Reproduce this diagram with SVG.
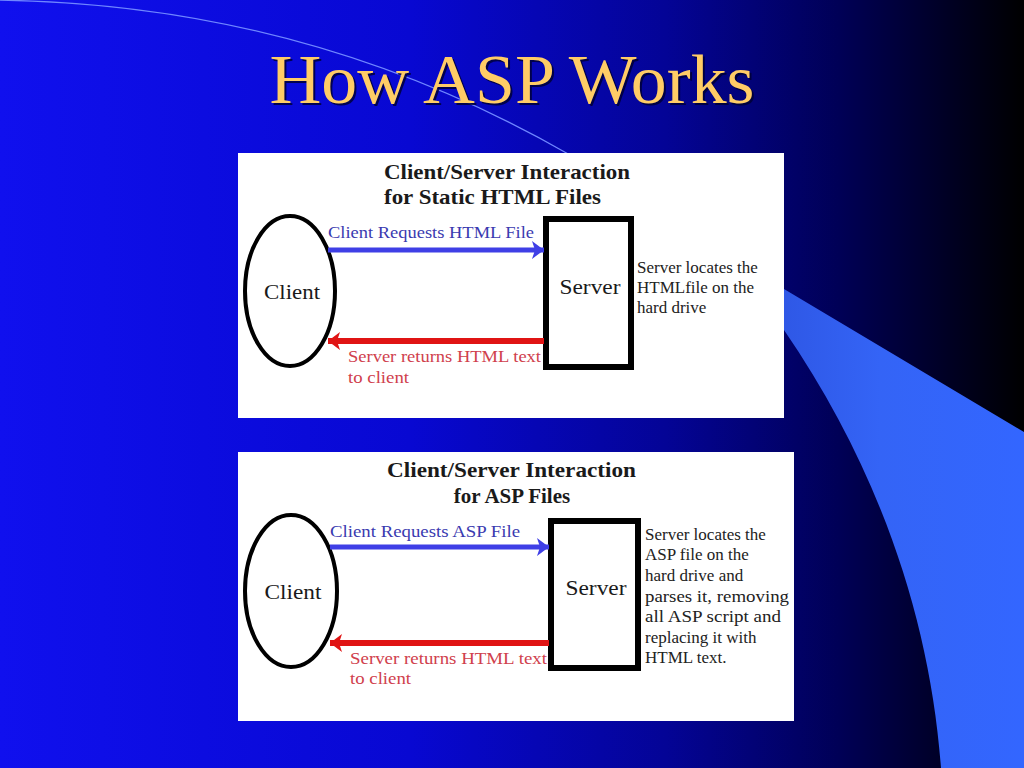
<svg xmlns="http://www.w3.org/2000/svg" width="1024" height="768" viewBox="0 0 1024 768">
<defs>
<linearGradient id="bg" x1="0" y1="0" x2="1" y2="0">
<stop offset="0" stop-color="#1010ee"/>
<stop offset="0.4" stop-color="#0808d2"/>
<stop offset="0.65" stop-color="#040496"/>
<stop offset="0.82" stop-color="#000056"/>
<stop offset="1" stop-color="#000000"/>
</linearGradient>
<linearGradient id="band" x1="0" y1="0" x2="1" y2="0">
<stop offset="0" stop-color="#2f58e6"/>
<stop offset="0.4" stop-color="#3464f6"/>
<stop offset="1" stop-color="#3366ff"/>
</linearGradient>
<marker id="headBlue" markerUnits="userSpaceOnUse" markerWidth="14" markerHeight="18" refX="12" refY="9" orient="auto">
<path d="M0,0 L12,9 L0,18 L3,9 Z" fill="#3f3fe6"/>
</marker>
<marker id="headRed" markerUnits="userSpaceOnUse" markerWidth="14" markerHeight="18" refX="12" refY="9" orient="auto">
<path d="M0,0 L12,9 L0,18 L3,9 Z" fill="#e01414"/>
</marker>
</defs>
<style>
.title{font-family:"Liberation Serif","DejaVu Serif",serif;font-size:69px;fill:#ffcc66}
.shadow{font-family:"Liberation Serif","DejaVu Serif",serif;font-size:69px;fill:#000030;opacity:0.8}
.panel{fill:#ffffff}
.ptitle{font-family:"Liberation Serif",serif;font-weight:bold;font-size:21px;fill:#1a1a1a}
.node{font-family:"Liberation Serif",serif;font-size:22px;fill:#1a1a1a}
.desc{font-family:"Liberation Serif",serif;font-size:17px;fill:#222222}
.req{font-family:"Liberation Serif",serif;font-size:17px;fill:#3a3ab0}
.ret{font-family:"Liberation Serif",serif;font-size:17px;fill:#d0404c}
.ell{fill:none;stroke:#000;stroke-width:4}
.srv{fill:#fff;stroke:#000;stroke-width:6}
.blue{stroke:#3f3fe6;stroke-width:5;fill:none;marker-end:url(#headBlue)}
.red{stroke:#e01414;stroke-width:6;fill:none;marker-end:url(#headRed)}
</style>
<rect x="0" y="0" width="1024" height="768" fill="url(#bg)"/>
<path d="M784,289 L1024,432 L1024,768 L941,768 C930,620 880,470 784,330 Z" fill="url(#band)"/>
<path d="M-20,0 Q300,0 570,155" fill="none" stroke="#6f86ff" stroke-width="1.2"/>
<text class="shadow" x="514" y="105" text-anchor="middle" textLength="485" lengthAdjust="spacingAndGlyphs">How ASP Works</text>
<text class="title" x="512" y="103" text-anchor="middle" textLength="485" lengthAdjust="spacingAndGlyphs">How ASP Works</text>

<g id="panel-static">
<rect class="panel" x="238" y="153" width="546" height="265"/>
<text class="ptitle" x="384" y="179" textLength="246" lengthAdjust="spacingAndGlyphs">Client/Server Interaction</text>
<text class="ptitle" x="384" y="204" textLength="217" lengthAdjust="spacingAndGlyphs">for Static HTML Files</text>
</g>
<g id="client1">
<ellipse class="ell" cx="290" cy="291" rx="45" ry="75"/>
<text class="node" x="292" y="299" text-anchor="middle" textLength="56" lengthAdjust="spacingAndGlyphs">Client</text>
</g>
<g id="server1">
<rect class="srv" x="546" y="219" width="85" height="148"/>
<text class="node" x="590" y="294" text-anchor="middle" textLength="61" lengthAdjust="spacingAndGlyphs">Server</text>
<text class="desc" x="637" y="273">Server locates the</text>
<text class="desc" x="637" y="293">HTMLfile on the</text>
<text class="desc" x="637" y="313">hard drive</text>
</g>

<g id="panel-asp">
<rect class="panel" x="238" y="452" width="556" height="269"/>
<text class="ptitle" x="387" y="477" textLength="249" lengthAdjust="spacingAndGlyphs">Client/Server Interaction</text>
<text class="ptitle" x="512" y="503" text-anchor="middle">for ASP Files</text>
</g>
<g id="client2">
<ellipse class="ell" cx="291" cy="591" rx="46" ry="76"/>
<text class="node" x="293" y="599" text-anchor="middle" textLength="57" lengthAdjust="spacingAndGlyphs">Client</text>
</g>
<g id="server2">
<rect class="srv" x="551" y="521" width="87" height="147"/>
<text class="node" x="596" y="595" text-anchor="middle" textLength="61" lengthAdjust="spacingAndGlyphs">Server</text>
<text class="desc" x="645" y="540">Server locates the</text>
<text class="desc" x="645" y="560">ASP file on the</text>
<text class="desc" x="645" y="581">hard drive and</text>
<text class="desc" x="645" y="602" textLength="144" lengthAdjust="spacingAndGlyphs">parses it, removing</text>
<text class="desc" x="645" y="622" textLength="136" lengthAdjust="spacingAndGlyphs">all ASP script and</text>
<text class="desc" x="645" y="643">replacing it with</text>
<text class="desc" x="645" y="663">HTML text.</text>
</g>

<g id="connectors">
<line class="blue" x1="328" y1="250" x2="544" y2="250"/>
<text class="req" x="328" y="238" textLength="206" lengthAdjust="spacingAndGlyphs">Client Requests HTML File</text>
<line class="red" x1="544" y1="341" x2="328" y2="341"/>
<text class="ret" x="348" y="362" textLength="193" lengthAdjust="spacingAndGlyphs">Server returns HTML text</text>
<text class="ret" x="348" y="383" textLength="61" lengthAdjust="spacingAndGlyphs">to client</text>

<line class="blue" x1="330" y1="547" x2="549" y2="547"/>
<text class="req" x="330" y="537" textLength="190" lengthAdjust="spacingAndGlyphs">Client Requests ASP File</text>
<line class="red" x1="549" y1="643" x2="330" y2="643"/>
<text class="ret" x="350" y="664" textLength="197" lengthAdjust="spacingAndGlyphs">Server returns HTML text</text>
<text class="ret" x="350" y="684" textLength="61" lengthAdjust="spacingAndGlyphs">to client</text>
</g>
</svg>
